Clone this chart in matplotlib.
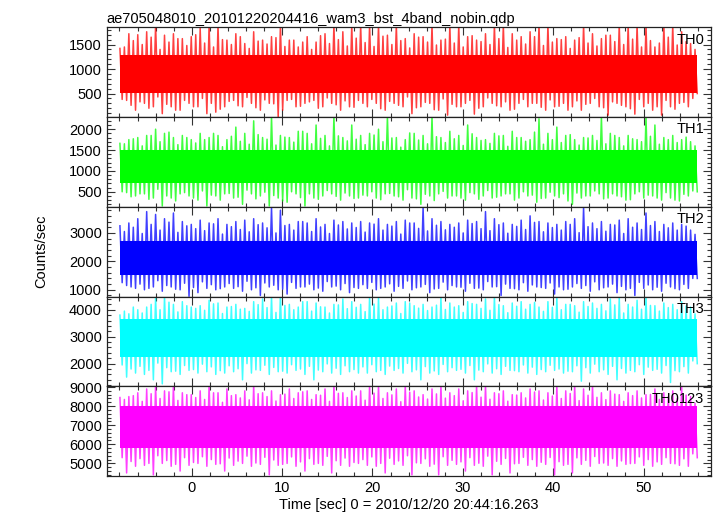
import numpy as np
import matplotlib
matplotlib.use("Agg")
import matplotlib.pyplot as plt
from matplotlib.ticker import MultipleLocator

plt.rcParams['font.family'] = ['Liberation Sans', 'DejaVu Sans']

title = "ae705048010_20101220204416_wam3_bst_4band_nobin.qdp"
xlabel = "Time [sec] 0 = 2010/12/20 20:44:16.263"
ylabel = "Counts/sec"
bands = ["TH0", "TH1", "TH2", "TH3", "TH0123"]
colors = ["#ff0000", "#00ff00", "#0000ff", "#00ffff", "#ff00ff"]
t_start, t_end = -7.95, 55.95

# outer spikes (hi / lo) and inner extremes (ihi / ilo), one per second
th0_hi = [1420, 1720, 1700, 1760, 1900, 1690, 1720, 1620, 1660, 1830, 1900, 1900, 1590, 1720, 1520, 1760, 1590, 1660, 1900, 1590, 1450, 1660, 1550, 1720, 1900, 1760, 1900,
          1900, 1900, 1900, 1690, 1900, 1620, 1720, 1660, 1900, 1590, 1900, 1900, 1660, 1590, 1720, 1900, 1900, 1720, 1660, 1760, 1900, 1900, 1620, 1660, 1590, 1900, 1720, 1620, 1690, 1900, 1900, 1900, 1900, 1450, 1900, 1900, 1760, 1520]
th0_lo = [360, 160, 300, 230, 90, 230, 160, 300, 230, 90, 120, 230, 360, 230, 300, 160, 300, 20, 360, 230, 300, 360, 230, 300, 160, 230, 360,
          230, 300, 160, 300, 230, 90, 230, 300, 160, 60, 230, 300, 80, 230, 300, 230, 160, 300, 230, 300, 160, 230, 300, 230, 160, 300, 230, 60, 300, 230, 80, 230, 160, 60, 230, 300, 230, 500]
th0_ihi = [1450, 1580, 1500, 1650, 1400, 1550, 1620, 1480, 1700, 1530, 1450, 1600, 1500, 1660, 1420, 1570, 1510, 1640, 1460, 1590, 1550, 1400, 1680, 1520, 1600, 1470, 1630,
           1540, 1460, 1670, 1500, 1580, 1430, 1650, 1550, 1490, 1610, 1530, 1450, 1680, 1560, 1500, 1620, 1440, 1590, 1510, 1660, 1480, 1550, 1600, 1420, 1640, 1530, 1470, 1690, 1560, 1500, 1610, 1450, 1580, 1530, 1650, 1490, 1560, 1400]
th0_ilo = [380, 260, 330, 200, 430, 280, 160, 360, 230, 400, 300, 180, 340, 250, 420, 210, 370, 290, 160, 380, 240, 330, 200, 410, 270, 350, 220,
           300, 380, 190, 340, 260, 430, 210, 320, 170, 390, 280, 230, 360, 200, 410, 250, 330, 180, 380, 300, 220, 370, 240, 160, 350, 280, 400, 210, 330, 260, 190, 380, 300, 230, 360, 180, 320, 400]

th1_hi = [1660, 1750, 1800, 1850, 2000, 1900, 1800, 1850, 1750, 1900, 1800, 1850, 1750, 2050, 1900, 2200, 1800, 2300, 1850, 1800, 1950, 1900, 2100, 1850, 2300, 1800, 2100,
          1850, 1900, 2000, 2300, 1800, 1750, 1900, 1850, 2300, 1800, 1950, 1850, 2100, 1800, 1750, 1900, 1850, 1950, 1800, 1750, 2250, 1900, 2050, 1850, 1750, 1800, 1850, 2300, 1900, 1800, 1850, 1750, 2300, 2100, 1800, 1850, 1750, 1700]
th1_lo = [480, 400, 450, 350, 160, 350, 450, 400, 300, 160, 400, 450, 350, 200, 450, 400, 160, 350, 250, 450, 160, 350, 400, 450, 300, 400, 350,
          400, 350, 450, 400, 300, 350, 200, 400, 450, 350, 400, 300, 450, 400, 350, 400, 450, 350, 400, 250, 350, 400, 450, 200, 350, 400, 450, 350, 400, 300, 450, 350, 400, 300, 350, 280, 400, 500]
th1_ihi = [1650, 1770, 1600, 1850, 1700, 1930, 1630, 1800, 1670, 1750, 1900, 1580, 1830, 1710, 1640, 1870, 1760, 1620, 1810, 1690, 1950, 1650, 1780, 1600, 1840, 1720, 1760,
           1630, 1860, 1700, 1790, 1570, 1910, 1740, 1650, 1820, 1680, 1770, 1610, 1890, 1730, 1660, 1840, 1590, 1800, 1710, 1930, 1640, 1750, 1680, 1870, 1620, 1790, 1730, 1650, 1850, 1600, 1770, 1700, 1830, 1640, 1750, 1680, 1810, 1600]
th1_ilo = [500, 380, 450, 320, 560, 400, 280, 480, 350, 520, 420, 300, 460, 370, 540, 330, 490, 410, 280, 500, 360, 450, 320, 530, 390, 470, 340,
           420, 500, 310, 460, 380, 550, 330, 440, 290, 510, 400, 350, 480, 320, 530, 370, 450, 300, 500, 420, 340, 490, 360, 280, 470, 400, 520, 330, 450, 380, 310, 500, 420, 350, 480, 300, 440, 520]

th2_hi = [3250, 3350, 3500, 3750, 3650, 3500, 3700, 3400, 3300, 3450, 3350, 3500, 3300, 3400, 3450, 3500, 3350, 3900, 3800, 3300, 3400, 3350, 3500, 3300, 3450, 3400, 3350,
          3400, 3350, 3500, 3300, 3400, 3450, 3350, 3900, 3500, 3400, 3300, 3350, 3450, 3400, 3750, 3500, 3350, 3300, 3450, 3600, 3400, 3350, 3300, 3400, 3500, 3900, 3350, 3400, 3300, 3450, 3500, 3350, 3700, 3400, 3300, 3350, 3300, 3100]
th2_lo = [1150, 1050, 1000, 1100, 950, 1100, 1000, 770, 900, 1050, 1000, 1100, 1050, 950, 1000, 800, 1100, 1000, 850, 1050, 1100, 1000, 950, 1100, 1000, 900, 1050,
          1050, 1000, 1100, 950, 1050, 1000, 1100, 900, 1050, 1000, 1100, 950, 1050, 1000, 1100, 800, 1050, 1000, 950, 1100, 1050, 850, 1000, 1100, 1050, 950, 1000, 1100, 900, 1000, 800, 1050, 1000, 950, 1100, 1000, 1050, 1400]
th2_ihi = [3050, 3200, 2980, 3300, 3100, 3380, 3020, 3250, 3150, 3080, 3320, 2960, 3220, 3120, 3040, 3290, 3180, 3000, 3260, 3100, 3400, 3050, 3210, 2980, 3280, 3140, 3190,
           3030, 3310, 3100, 3240, 2960, 3350, 3160, 3070, 3270, 3110, 3200, 3000, 3330, 3150, 3080, 3290, 2990, 3230, 3120, 3370, 3040, 3190, 3100, 3300, 3010, 3220, 3150, 3060, 3280, 2980, 3200, 3120, 3260, 3050, 3180, 3100, 3240, 2950]
th2_ilo = [1250, 1100, 1200, 1050, 1320, 1150, 1020, 1230, 1080, 1280, 1180, 1040, 1220, 1110, 1300, 1070, 1240, 1160, 1020, 1260, 1100, 1200, 1060, 1290, 1130, 1220, 1080,
           1180, 1260, 1050, 1210, 1120, 1310, 1070, 1190, 1030, 1270, 1150, 1090, 1230, 1060, 1290, 1110, 1200, 1040, 1250, 1170, 1080, 1240, 1100, 1020, 1220, 1150, 1280, 1070, 1200, 1120, 1050, 1260, 1170, 1090, 1230, 1040, 1190, 1400]

th3_hi = [3800, 3850, 4000, 4100, 4450, 4500, 4200, 4300, 4100, 4150, 4350, 4250, 4100, 4200, 4050, 4300, 4400, 4500, 4550, 4200, 4100, 4300, 4250, 4100, 4200, 4400, 4300,
          4200, 4500, 4450, 4100, 4250, 4300, 4150, 4200, 4100, 4450, 4250, 4150, 4300, 4200, 4400, 4500, 4150, 4250, 4300, 4200, 4100, 4300, 4450, 4200, 4150, 4300, 4250, 4200, 4400, 4450, 4200, 4350, 4500, 4150, 4250, 4200, 4300, 4100]
th3_lo = [1500, 1650, 1600, 1400, 1250, 1700, 1600, 1750, 1650, 1700, 1600, 1650, 1700, 1400, 1650, 1750, 1600, 1700, 1650, 1750, 1600, 1400, 1700, 1650, 1600, 1700, 1650,
          1650, 1700, 1600, 1750, 1650, 1700, 1400, 1650, 1600, 1700, 1750, 1650, 1400, 1700, 1650, 1600, 1750, 1700, 1650, 1600, 1700, 1750, 1650, 1700, 1350, 1650, 1700, 1600, 1400, 1650, 1700, 1600, 1750, 1650, 1300, 1700, 1650, 2000]
th3_ihi = [3950, 4100, 3880, 4200, 4000, 4280, 3920, 4150, 4050, 3980, 4220, 3860, 4120, 4020, 3940, 4190, 4080, 3900, 4160, 4000, 4300, 3950, 4110, 3880, 4180, 4040, 4090,
           3930, 4210, 4000, 4140, 3860, 4250, 4060, 3970, 4170, 4010, 4100, 3900, 4230, 4050, 3980, 4190, 3890, 4130, 4020, 4270, 3940, 4090, 4000, 4200, 3910, 4120, 4050, 3960, 4180, 3880, 4100, 4020, 4160, 3950, 4080, 4000, 4140, 3850]
th3_ilo = [1950, 1800, 1900, 1750, 2020, 1850, 1720, 1930, 1780, 1980, 1880, 1740, 1920, 1810, 2000, 1770, 1940, 1860, 1720, 1960, 1800, 1900, 1760, 1990, 1830, 1920, 1780,
           1880, 1960, 1750, 1910, 1820, 2010, 1770, 1890, 1730, 1970, 1850, 1790, 1930, 1760, 1990, 1810, 1900, 1740, 1950, 1870, 1780, 1940, 1800, 1720, 1920, 1850, 1980, 1770, 1900, 1820, 1750, 1960, 1870, 1790, 1930, 1740, 1890, 2100]

th0123_hi = [8450, 8500, 8700, 8900, 9100, 8800, 9100, 8700, 8600, 8800, 9100, 8700, 8900, 8600, 8800, 9100, 8700, 8800, 8600, 8900, 8700, 8800, 8600, 8900, 9100, 8700, 8800,
             8800, 9100, 9100, 8700, 8900, 9100, 8800, 8600, 8900, 9100, 8700, 8900, 8800, 9100, 9100, 8700, 8800, 8600, 8700, 8900, 8800, 8700, 9100, 8800, 9100, 8900, 9100, 8700, 8800, 8600, 8700, 8800, 8600, 8900, 8700, 8800, 9000, 8500]
th0123_lo = [4500, 4850, 4900, 4400, 5000, 4850, 4600, 4900, 5000, 4850, 4950, 4600, 4900, 5000, 4850, 4950, 4400, 4900, 5000, 4850, 4600, 4950, 4900, 4500, 4900, 4850, 5000,
             4900, 4850, 4500, 4950, 4900, 4400, 5000, 4850, 4400, 4900, 4950, 4600, 4900, 4850, 4400, 4950, 4500, 5000, 4900, 4850, 4950, 4400, 4900, 4500, 4950, 4850, 5000, 4900, 4850, 4950, 5000, 4900, 4850, 4950, 5000, 4900, 4850, 5300]
th0123_ihi = [8350, 8550, 8250, 8650, 8400, 8750, 8300, 8600, 8450, 8350, 8700, 8200, 8550, 8430, 8330, 8650, 8500, 8270, 8630, 8400, 8750, 8350, 8570, 8250, 8670, 8450, 8530,
              8310, 8680, 8400, 8590, 8230, 8730, 8480, 8370, 8640, 8420, 8550, 8280, 8710, 8470, 8360, 8650, 8260, 8580, 8430, 8740, 8320, 8530, 8400, 8660, 8290, 8570, 8460, 8340, 8630, 8250, 8550, 8430, 8610, 8350, 8510, 8400, 8580, 8150]
th0123_ilo = [5300, 5100, 5250, 5000, 5400, 5150, 4950, 5300, 5050, 5350, 5200, 4980, 5280, 5120, 5380, 5020, 5320, 5180, 4950, 5340, 5080, 5250, 5000, 5370, 5140, 5280, 5050,
              5200, 5340, 5000, 5270, 5130, 5400, 5030, 5240, 4960, 5350, 5160, 5080, 5300, 5010, 5380, 5110, 5260, 4980, 5320, 5200, 5060, 5310, 5090, 4950, 5290, 5160, 5360, 5020, 5250, 5130, 4990, 5340, 5200, 5080, 5300, 4980, 5240, 5500]

core_lo = [520, 700, 1520, 2250, 5800]
core_hi = [1280, 1500, 2720, 3650, 8000]
ylims = [(20, 1850), (140, 2290), (763, 3918), (1160, 4490), (4340, 9040)]
ymajor = [500, 500, 1000, 1000, 1000]
yminor = [100, 100, 200, 200, 200]

series = [(th0_hi, th0_ilo, th0_ihi, th0_lo),
          (th1_hi, th1_ilo, th1_ihi, th1_lo),
          (th2_hi, th2_ilo, th2_ihi, th2_lo),
          (th3_hi, th3_ilo, th3_ihi, th3_lo),
          (th0123_hi, th0123_ilo, th0123_ihi, th0123_lo)]

fig = plt.figure(figsize=(7.17, 5.16), dpi=100)
left, right, top, bottom = 0.149, 0.992, 0.947, 0.0775
h = (top - bottom) / 5
axes = []
for i in range(5):
    ax = fig.add_axes([left, top - (i + 1) * h, right - left, h])
    axes.append(ax)
    parts = series[i]
    n = min(len(p) for p in parts)
    ys = np.empty(4 * n)
    for k, p in enumerate(parts):
        ys[k::4] = p[:n]
    ts = np.linspace(t_start, t_end, 4 * n)
    ax.fill_between([t_start, t_end], core_lo[i], core_hi[i], color=colors[i], lw=0)
    ax.plot(ts, ys, color=colors[i], lw=1.1, alpha=0.75)
    ax.set_xlim(-9.4, 57.5)
    ax.set_ylim(*ylims[i])
    ax.xaxis.set_major_locator(MultipleLocator(10))
    ax.xaxis.set_minor_locator(MultipleLocator(2))
    ax.yaxis.set_major_locator(MultipleLocator(ymajor[i]))
    ax.yaxis.set_minor_locator(MultipleLocator(yminor[i]))
    ax.tick_params(which='both', direction='in', top=True, right=True, colors='#333333', labelcolor='black', labelsize=10.5, width=0.8)
    ax.tick_params(which='major', length=6)
    ax.tick_params(which='minor', length=3)
    for s in ax.spines.values():
        s.set_color('#222222')
        s.set_linewidth(0.9)
    if i < 4:
        ax.tick_params(labelbottom=False)
    ax.text(0.988, 0.94, bands[i], transform=ax.transAxes, ha='right', va='top', fontsize=10.5)

axes[0].set_title(title, loc='left', fontsize=10.5, pad=3)
axes[-1].set_xlabel(xlabel, fontsize=10.5, labelpad=2)
fig.text(0.057, (top + bottom) / 2, ylabel, rotation=90, ha='center', va='center', fontsize=10.5)

fig.savefig("out.png", dpi=100)
